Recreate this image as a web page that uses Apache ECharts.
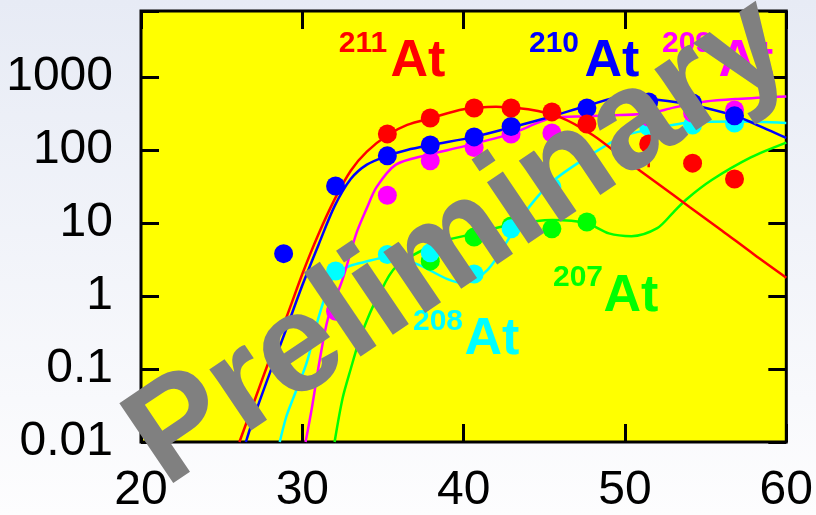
<!DOCTYPE html>
<html>
<head>
<meta charset="utf-8">
<script src="https://cdn.jsdelivr.net/npm/echarts@6.0.0/dist/echarts.min.js"></script>
<style>
  html, body { margin: 0; padding: 0; }
  #chart { width: 816px; height: 515px; }
</style>
</head>
<body>
<div id="chart"></div>
<script>
// axis ticks
var xTicks = [20, 30, 40, 50, 60];
var yTickLabels = ["0.01", "0.1", "1", "10", "100", "1000"];

// measured points (x, cross section)
var x211 = [35.27, 37.93, 40.65, 42.94, 45.47, 47.64, 51.47, 54.19, 56.79];
var y211 = [166, 274, 376, 376, 332, 227, 121, 66, 40];
var x210 = [28.84, 32.06, 35.27, 37.93, 40.65, 42.94, 47.64, 51.47, 54.19, 56.79];
var y210 = [3.8, 32, 83, 117, 151, 210, 376, 455, 441, 293];
var x209 = [32.06, 35.27, 37.93, 40.65, 42.94, 45.47, 51.47, 54.19, 56.79];
var y209 = [0.62, 24, 71, 108, 165, 171, 283, 321, 353];
var x208 = [32.06, 35.27, 37.93, 40.65, 42.94, 45.47, 47.64, 51.47, 54.19, 56.79];
var y208 = [2.2, 3.7, 3.9, 2.0, 8.3, 31, 77, 207, 220, 234];
var x207 = [37.93, 40.65, 42.94, 45.47, 47.64];
var y207 = [3.0, 6.4, 9.1, 8.3, 10.3];

// error bar on one 211At point
var errX = [51.47, 51.47];
var errY = [121, 58];

// fitted curves
var cx211 = [26.1, 27, 28, 29, 30, 31, 32, 33, 34, 35.3, 36.5, 38, 40, 42, 44, 46, 48, 50, 52, 54, 56, 58, 60];
var cy211 = [0.01, 0.035, 0.14, 0.5, 2.0, 7.0, 21, 52, 95, 160, 220, 275, 360, 390, 360, 280, 160, 74, 35, 16.6, 7.9, 3.7, 1.78];
var cx210 = [26.5, 27, 28, 29, 30, 31, 32, 33, 34, 35.27, 36.5, 38, 40.65, 43, 45.5, 47.6, 50, 51.5, 54, 56.8, 58, 60];
var cy210 = [0.01, 0.022, 0.09, 0.35, 1.4, 5.0, 17, 40, 63, 83, 100, 117, 151, 205, 290, 400, 540, 500, 420, 295, 230, 146];
var cx209 = [30.2, 30.6, 31.07, 31.6, 32.5, 33.35, 34, 34.6, 35.8, 37.7, 40, 42.9, 44.7, 45.5, 47.6, 51.5, 53, 55, 57, 60];
var cy209 = [0.01, 0.03, 0.13, 0.5, 1.7, 7.2, 16, 31, 63, 85, 112, 166, 240, 275, 290, 316, 380, 460, 500, 540];
var cx208 = [28.6, 29, 29.4, 30.26, 31, 31.5, 32.05, 33, 33.8, 35.3, 37, 39, 40, 41.5, 43, 44.1, 45.5, 47.7, 49.9, 51.5, 54.2, 56.9, 60];
var cy208 = [0.01, 0.022, 0.038, 0.12, 0.5, 1.1, 2.0, 2.6, 2.9, 3.4, 2.8, 1.7, 1.5, 2.3, 7.2, 17, 37, 81, 155, 190, 240, 245, 234];
var cx207 = [32.0, 32.5, 33, 33.54, 34.2, 34.6, 35.8, 38.5, 40.65, 43, 45.5, 47.6, 49, 50.4, 52, 53, 53.8, 55.4, 57.8, 60];
var cy207 = [0.01, 0.04, 0.1, 0.25, 0.59, 0.89, 2.5, 5.4, 7.1, 9.5, 11, 10, 7.2, 6.6, 8.5, 14, 21, 39, 79, 126];

function zip(a, b) {
  return a.map(function (v, i) { return [v, b[i]]; });
}

var RED = "#ff0000", BLUE = "#0000ff", MAG = "#ff00ff", CYAN = "#00ffff", GREEN = "#00ff00";

function curve(xs, ys, color) {
  return {
    type: "line", data: zip(xs, ys), smooth: 0.3, showSymbol: false, silent: true,
    lineStyle: { color: color, width: 2.5 }, z: 2
  };
}
function dots(xs, ys, color) {
  return {
    type: "scatter", data: zip(xs, ys), symbol: "circle", symbolSize: 19,
    itemStyle: { color: color, opacity: 1 }, z: 3
  };
}

var chart = echarts.init(document.getElementById("chart"));

var tickStyle = { show: true, inside: true, length: 18, lineStyle: { color: "#000", width: 3 } };

function yLabel(v) {
  var l = Math.log10(v), e = Math.round(l);
  if (Math.abs(l - e) > 0.01) return "";
  return yTickLabels[e + 2] || "";
}

var isoLabels = [
  { mass: "211", color: RED, m: [363, 44], a: [418, 62] },
  { mass: "210", color: BLUE, m: [554, 44], a: [612, 62] },
  { mass: "209", color: MAG, m: [687, 44], a: [746, 62] },
  { mass: "208", color: CYAN, m: [438, 322], a: [492, 340] },
  { mass: "207", color: GREEN, m: [578, 278], a: [631, 297] }
];
var graphics = [];
isoLabels.forEach(function (o) {
  graphics.push({
    type: "text", x: o.m[0], y: o.m[1], z: 50,
    style: { text: o.mass, fill: o.color, font: "bold 30px 'Liberation Sans', Arial", align: "center", verticalAlign: "middle" }
  });
  graphics.push({
    type: "text", x: o.a[0], y: o.a[1], z: 50,
    style: { text: "At", fill: o.color, font: "bold 52px 'Liberation Sans', Arial", align: "center", verticalAlign: "middle" }
  });
});
graphics.push({
  type: "text", x: 460, y: 243, rotation: 34 * Math.PI / 180, z: 100,
  style: { text: "Preliminary", fill: "#808080", font: "bold 140px 'Liberation Sans', Arial", align: "center", verticalAlign: "middle" }
});

chart.setOption({
  animation: false,
  backgroundColor: {
    type: "linear", x: 0, y: 0, x2: 0, y2: 1,
    colorStops: [{ offset: 0, color: "#e7ebf5" }, { offset: 1, color: "#fdfdfe" }]
  },
  grid: {
    left: 141, right: 28, top: 11, bottom: 73,
    show: true, backgroundColor: "#ffff00", borderColor: "#000", borderWidth: 3
  },
  xAxis: [
    {
      type: "value", min: xTicks[0], max: xTicks[xTicks.length - 1], interval: 10,
      axisLine: { show: false }, splitLine: { show: false }, axisTick: tickStyle,
      axisLabel: { color: "#000", fontSize: 48, fontFamily: "'Liberation Sans', Arial", margin: 25 }
    },
    {
      type: "value", position: "top", min: xTicks[0], max: xTicks[xTicks.length - 1], interval: 10,
      axisLine: { show: false }, splitLine: { show: false }, axisTick: tickStyle, axisLabel: { show: false }
    }
  ],
  yAxis: [
    {
      type: "log", logBase: 10, min: 0.01, max: 8000,
      axisLine: { show: false }, splitLine: { show: false }, axisTick: tickStyle,
      axisLabel: { color: "#000", fontSize: 48, fontFamily: "'Liberation Sans', Arial", margin: 28, formatter: yLabel }
    },
    {
      type: "log", logBase: 10, min: 0.01, max: 8000, position: "right",
      axisLine: { show: false }, splitLine: { show: false }, axisTick: tickStyle, axisLabel: { show: false }
    }
  ],
  series: [
    curve(cx207, cy207, GREEN),
    curve(cx208, cy208, CYAN),
    curve(cx209, cy209, MAG),
    curve(cx210, cy210, BLUE),
    curve(cx211, cy211, RED),
    { type: "line", data: zip(errX, errY), showSymbol: false, silent: true, lineStyle: { color: RED, width: 2.5 }, z: 3 },
    dots(x207, y207, GREEN),
    dots(x208, y208, CYAN),
    dots(x209, y209, MAG),
    dots(x210, y210, BLUE),
    dots(x211, y211, RED)
  ],
  graphic: graphics
});
</script>
</body>
</html>
